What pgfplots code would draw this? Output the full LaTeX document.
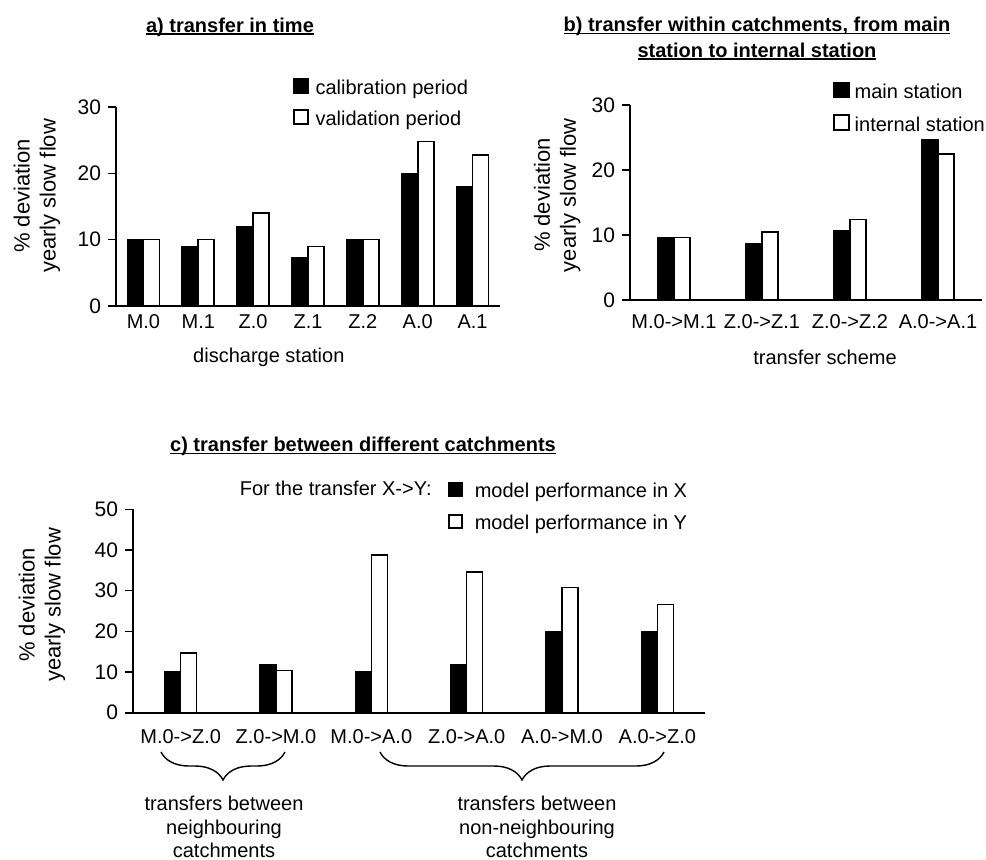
\documentclass[border=0pt]{standalone}
\usepackage{fontspec}
\setmainfont{Liberation Sans}
\usepackage{pgfplots}
\usepackage{pgfplotstable}
\pgfplotsset{compat=1.18}
\usetikzlibrary{decorations.pathreplacing}

\newcommand{\ul}[1]{\setbox0\hbox{#1}\rlap{\copy0}\rule[-1.4pt]{\wd0}{0.8pt}}

\pgfplotstableread{
x c v
0 10 10
1 9 10
2 12 14
3 7.2 9
4 10 10
5 20 24.8
6 18 22.8
}\tablea
\pgfplotstableread{
x m i
0 9.6 9.6
1 8.6 10.5
2 10.6 12.4
3 24.6 22.5
}\tableb
\pgfplotstableread{
x px py
0 10 14.7
1 11.8 10.4
2 10 38.8
3 11.8 34.6
4 20 30.8
5 20 26.6
}\tablec

\pgfplotsset{
  panel/.style={
    scale only axis,
    anchor=south west,
    axis x line*=bottom,
    axis y line*=left,
    axis line style={line width=0.8pt,black},
    ymin=0,
    ybar=0pt,
    bar width=8pt,
    xtick=data,
    xtick style={draw=none},
    ytick style={line width=0.8pt, black},
    tick align=outside,
    major tick length=4pt,
    /pgf/number format/assume math mode=true,
    yticklabel style={font=\fontsize{10.5}{12}\selectfont},
    xticklabel style={font=\fontsize{10}{12}\selectfont, text height=7.3pt, text depth=0pt, anchor=north},
    label style={font=\fontsize{10}{12}\selectfont},
    legend cell align=left,
    ylabel={\% deviation\\yearly slow flow},
    ylabel style={align=center, anchor=center, font=\fontsize{11}{13}\selectfont},
    clip=false,
  },
  sqlegend/.style={
    legend image code/.code={\draw[##1,line width=0.8pt] (0pt,-2pt) rectangle (#1,{#1-2pt});},
  },
  leg/.style 2 args={
    legend style={draw=none, fill=none, inner sep=0pt, outer sep=0pt,
      row sep=#1, column sep=#2,
      nodes={inner sep=0pt, text height=7.5pt, text depth=2pt, font=\fontsize{10}{12}\selectfont}},
  },
  calib/.style={fill=black, draw=black, line width=0.8pt},
  valid/.style={fill=white, draw=black, line width=0.8pt},
}

\begin{document}
\begin{tikzpicture}[x=0.5pt,y=-0.5pt,font=\fontsize{10}{12}\selectfont]
\path[use as bounding box] (0,0) rectangle (986,859);

% ---------- panel a
\begin{axis}[panel, sqlegend=7pt, leg={5.5pt}{3.5pt},
  at={(58pt,-153pt)}, width=192pt, height=99.5pt,
  ymax=30, ytick={0,10,20,30},
  xmin=-0.5, xmax=6.5,
  xticklabels={M.0,M.1,Z.0,Z.1,Z.2,A.0,A.1},
  xticklabel style={yshift=3.8pt},
  xlabel={discharge station},
  xlabel style={at={(axis description cs:0.398,-0.256)}, anchor=center},
  ylabel style={at={(axis description cs:-0.206,0.553)}},
  legend style={at={(axis description cs:0.461,1.146)}, anchor=north west},
]
\addplot[calib] table[x=x,y=c] {\tablea};
\addplot[valid] table[x=x,y=v] {\tablea};
\legend{calibration period, validation period}
\end{axis}

% ---------- panel b
\begin{axis}[panel, sqlegend=7.5pt, leg={5.5pt}{2.5pt},
  at={(315pt,-150pt)}, width=176pt, height=97.5pt,
  ymax=30, ytick={0,10,20,30},
  xmin=-0.5, xmax=3.5,
  xticklabels={M.0->M.1,Z.0->Z.1,Z.0->Z.2,A.0->A.1},
  xticklabel style={yshift=0.8pt},
  xlabel={transfer scheme},
  xlabel style={at={(axis description cs:0.554,-0.292)}, anchor=center},
  ylabel style={at={(axis description cs:-0.207,0.538)}},
  legend style={at={(axis description cs:0.577,1.120)}, anchor=north west},
]
\addplot[calib] table[x=x,y=m] {\tableb};
\addplot[valid] table[x=x,y=i] {\tableb};
\legend{main station, internal station}
\end{axis}

% ---------- panel c
\begin{axis}[panel, sqlegend=6.5pt, leg={6.5pt}{6pt},
  at={(66.5pt,-356.35pt)}, width=286pt, height=101.7pt,
  ymax=50, ytick={0,10,20,30,40,50},
  xmin=-0.5, xmax=5.5,
  xticklabels={M.0->Z.0,Z.0->M.0,M.0->A.0,Z.0->A.0,A.0->M.0,A.0->Z.0},
  xticklabel style={yshift=-0.7pt},
  ylabel style={at={(axis description cs:-0.159,0.53)}},
  legend style={at={(axis description cs:0.551,1.134)}, anchor=north west},
]
\addplot[calib] table[x=x,y=px] {\tablec};
\addplot[valid] table[x=x,y=py] {\tablec};
\legend{model performance in X, model performance in Y}
\end{axis}

% ---------- titles and annotations
\node[anchor=base, font=\fontsize{10}{12}\selectfont\bfseries] at (230,32) {\ul{a) transfer in time}};
\node[anchor=base, font=\fontsize{10}{12}\selectfont\bfseries] at (757,31.5) {\ul{b) transfer within catchments, from main}};
\node[anchor=base, font=\fontsize{10}{12}\selectfont\bfseries] at (757,57) {\ul{station to internal station}};
\node[anchor=base, font=\fontsize{10}{12}\selectfont\bfseries] at (363,451.5) {\ul{c) transfer between different catchments}};
\node[anchor=base east, inner sep=0pt] at (432,495) {For the transfer X->Y:};

\draw[line width=0.7pt, decorate, decoration={brace, mirror, amplitude=14pt}] (161,752) -- (285,752);
\draw[line width=0.7pt, decorate, decoration={brace, mirror, amplitude=14pt}] (380,752) -- (664,752);
\node[align=center, font=\fontsize{10}{11.75}\selectfont] at (224,827) {transfers between\\neighbouring\\catchments};
\node[align=center, font=\fontsize{10}{11.75}\selectfont] at (537,827) {transfers between\\non-neighbouring\\catchments};
\end{tikzpicture}
\end{document}
